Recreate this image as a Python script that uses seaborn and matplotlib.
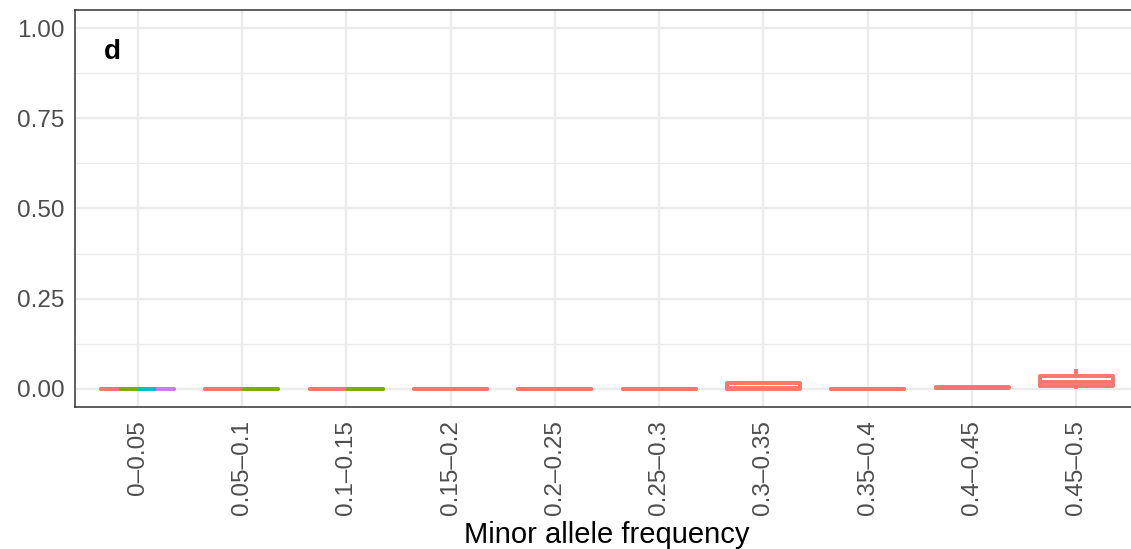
import matplotlib
matplotlib.use("Agg")
import matplotlib.pyplot as plt
import seaborn as sns
import pandas as pd
from matplotlib.ticker import MultipleLocator

# minor allele frequency bins (x axis)
maf_bins = ["0–0.05", "0.05–0.1", "0.1–0.15", "0.15–0.2", "0.2–0.25",
            "0.25–0.3", "0.3–0.35", "0.35–0.4", "0.4–0.45", "0.45–0.5"]
groups = ["g1", "g2", "g3", "g4"]
colors = {"g1": "#F8766D", "g2": "#7CAE00", "g3": "#00BFC4", "g4": "#C77CFF"}

# per-bin values for each group (groups 2-4 only exist in the lowest bins)
g1_values = [
    [0.0, 0.0, 0.0, 0.0, 0.0, 0.0, 0.0],
    [0.0, 0.0, 0.0, 0.0, 0.0, 0.0, 0.0],
    [0.0, 0.0, 0.0, 0.0, 0.0, 0.0, 0.0],
    [0.0, 0.0, 0.0, 0.0, 0.0, 0.0, 0.0],
    [0.0, 0.0, 0.0, 0.0, 0.0, 0.0, 0.0],
    [0.0, 0.0, 0.0, 0.0, 0.0, 0.0, 0.0],
    [0.0, 0.0, 0.0, 0.002, 0.015, 0.017, 0.022],
    [0.0, 0.0, 0.0, 0.0, 0.0, 0.0, 0.0],
    [0.0, 0.001, 0.002, 0.003, 0.004, 0.005, 0.006],
    [0.0, 0.006, 0.01, 0.018, 0.035, 0.037, 0.054],
]
g2_values = [
    [0.0, 0.0, 0.0, 0.0, 0.0, 0.0, 0.0],
    [0.0, 0.0, 0.0, 0.0, 0.0, 0.0, 0.0],
    [0.0, 0.0, 0.0, 0.0, 0.0, 0.0, 0.0],
]
g3_values = [
    [0.0, 0.0, 0.0, 0.0, 0.0, 0.0, 0.0],
]
g4_values = [
    [0.0, 0.0, 0.0, 0.0, 0.0, 0.0, 0.0],
]

rows = []
for g, vals in zip(groups, [g1_values, g2_values, g3_values, g4_values]):
    for b, v in zip(maf_bins, vals):
        for x in v:
            rows.append({"maf": b, "group": g, "value": x})
df = pd.DataFrame(rows)

sns.set_theme(style="white")
plt.rcParams["font.family"] = ["Liberation Sans", "DejaVu Sans"]

fig, ax = plt.subplots(figsize=(11.31, 5.49), dpi=100)
# the panel runs slightly past the right edge (image is cropped there)
fig.subplots_adjust(left=0.0663, right=1.0071, top=0.9818, bottom=0.2587)

# boxes are dodged only among the groups present in each bin (like ggplot)
for b in maf_bins:
    sub = df[df["maf"] == b]
    present = [g for g in groups if g in set(sub["group"])]
    sns.boxplot(data=sub, x="maf", y="value", hue="group", order=maf_bins,
                hue_order=present, palette=colors, dodge=True, width=0.7,
                gap=0, fill=False, linewidth=2.8, showcaps=False,
                showfliers=False, legend=False, ax=ax)

ax.set_xlim(-0.6, len(maf_bins) - 0.4)
ax.set_ylim(-0.05, 1.05)
ax.yaxis.set_major_locator(MultipleLocator(0.25))
ax.yaxis.set_minor_locator(MultipleLocator(0.125))
ax.set_yticks([0, 0.25, 0.5, 0.75, 1.0], ["0.00", "0.25", "0.50", "0.75", "1.00"])

ax.set_axisbelow(True)
ax.grid(which="major", axis="both", color="#EBEBEB", linewidth=1.7)
ax.grid(which="minor", axis="y", color="#EBEBEB", linewidth=0.9)

ax.tick_params(axis="both", which="major", length=4.5, width=1.1, color="#333333",
               labelcolor="#4D4D4D", labelsize=17.5, pad=3)
ax.tick_params(axis="x", pad=5, labelrotation=90)
ax.tick_params(axis="y", which="minor", length=0)
for spine in ax.spines.values():
    spine.set_visible(True)
    spine.set_color("#333333")
    spine.set_linewidth(1.1)
ax.spines["right"].set_visible(False)

ax.set_xlabel("Minor allele frequency", fontsize=21, color="black", labelpad=4)
ax.set_ylabel("")
ax.text(0.035, 0.894, "d", transform=ax.transAxes, fontsize=20, color="black",
        fontweight="bold", ha="center", va="center")

plt.savefig("out.png", dpi=100)
